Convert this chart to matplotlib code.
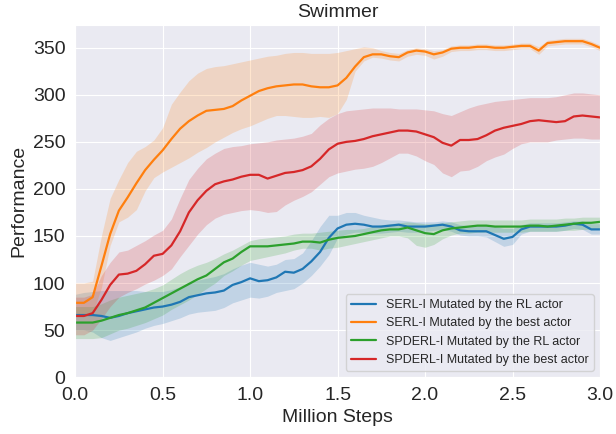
import numpy as np
import matplotlib
matplotlib.use("Agg")
import matplotlib.pyplot as plt
import seaborn as sns

sns.set_style("darkgrid")
plt.rcParams['font.family'] = ['Liberation Sans', 'DejaVu Sans']

# x axis: million steps
steps = np.linspace(0, 3, 61)

# SERL-I mutated by the RL actor (blue)
serl_rl = [66, 66, 66, 65, 63, 65, 68, 70, 72, 74, 75, 77, 80, 85, 87, 89, 90, 92, 98, 101,
           105, 102, 103, 106, 112, 111, 115, 123, 133, 148, 158, 162, 163, 162, 160, 160, 161, 162, 160, 160,
           160, 161, 162, 160, 156, 155, 155, 155, 151, 147, 149, 157, 160, 160, 160, 160, 161, 163, 162, 157, 157]
serl_rl_hi = [88, 90, 91, 92, 92, 92, 92, 92, 91, 91, 91, 93, 96, 100, 103, 105, 107, 110, 115, 119,
              122, 120, 118, 120, 125, 126, 132, 145, 160, 172, 172, 175, 175, 172, 170, 168, 167, 167, 166, 165,
              165, 165, 166, 165, 162, 161, 161, 161, 160, 158, 158, 162, 164, 164, 164, 164, 165, 166, 166, 163, 163]
serl_rl_lo = [50, 50, 48, 42, 39, 42, 45, 48, 52, 55, 57, 60, 63, 67, 69, 70, 71, 74, 79, 82,
              85, 84, 86, 90, 92, 94, 100, 108, 118, 130, 148, 152, 154, 154, 153, 153, 154, 155, 154, 154,
              155, 156, 157, 155, 151, 150, 150, 149, 144, 139, 141, 152, 155, 155, 155, 155, 156, 158, 157, 152, 152]

# SERL-I mutated by the best actor (orange)
serl_best = [79, 79, 85, 118, 152, 177, 191, 206, 220, 231, 241, 253, 264, 272, 278, 283, 284, 285, 288, 294,
             299, 304, 307, 309, 310, 311, 311, 309, 308, 308, 310, 318, 330, 340, 343, 343, 341, 340, 345, 347,
             346, 343, 345, 349, 350, 350, 351, 351, 350, 350, 351, 352, 352, 347, 355, 356, 357, 357, 357, 354, 350]
serl_best_hi = [100, 100, 102, 150, 190, 210, 228, 240, 245, 252, 265, 290, 303, 315, 323, 328, 330, 331, 333, 335,
                337, 339, 341, 342, 344, 345, 345, 344, 344, 344, 345, 347, 349, 351, 350, 347, 345, 344, 348, 350,
                349, 347, 348, 352, 353, 353, 354, 354, 353, 353, 354, 355, 355, 351, 358, 359, 360, 360, 360, 357, 353]
serl_best_lo = [65, 65, 68, 95, 140, 165, 170, 178, 198, 212, 218, 223, 228, 233, 239, 244, 250, 255, 260, 264,
                267, 271, 275, 278, 278, 277, 276, 276, 277, 276, 280, 295, 325, 336, 340, 339, 337, 336, 341, 343,
                342, 338, 341, 346, 347, 347, 348, 348, 347, 347, 348, 349, 349, 343, 352, 353, 354, 354, 354, 351, 347]

# SPDERL-I mutated by the RL actor (green)
spd_rl = [58, 58, 58, 60, 63, 66, 68, 71, 74, 79, 84, 89, 94, 99, 104, 108, 115, 122, 126, 133,
          139, 139, 139, 140, 141, 142, 144, 144, 143, 146, 148, 149, 150, 152, 154, 156, 157, 157, 159, 156,
          153, 152, 156, 158, 159, 160, 161, 161, 160, 160, 160, 160, 161, 161, 160, 161, 162, 163, 164, 164, 165]
spd_rl_hi = [75, 75, 75, 78, 82, 85, 87, 89, 91, 94, 98, 104, 110, 115, 119, 122, 126, 131, 135, 140,
             145, 147, 148, 149, 150, 152, 153, 153, 154, 155, 156, 157, 157, 158, 160, 162, 163, 164, 165, 164,
             163, 163, 164, 165, 166, 167, 167, 167, 167, 167, 167, 167, 168, 168, 168, 168, 169, 169, 170, 170, 170]
spd_rl_lo = [41, 41, 41, 42, 46, 50, 52, 55, 58, 62, 66, 72, 77, 82, 88, 94, 100, 108, 113, 119,
             124, 126, 128, 130, 132, 135, 137, 137, 135, 137, 138, 140, 142, 144, 146, 148, 150, 150, 148, 140,
             138, 141, 147, 151, 153, 153, 154, 154, 154, 154, 154, 154, 155, 155, 155, 155, 156, 156, 157, 157, 158]

# SPDERL-I mutated by the best actor (red)
spd_best = [65, 65, 68, 82, 98, 109, 110, 113, 120, 129, 131, 140, 155, 175, 188, 198, 205, 208, 210, 213,
            215, 215, 211, 214, 217, 218, 220, 224, 232, 242, 248, 250, 251, 253, 256, 258, 260, 262, 262, 261,
            258, 255, 249, 246, 252, 252, 253, 257, 262, 265, 267, 269, 272, 273, 272, 271, 272, 277, 278, 277, 276]
spd_best_hi = [85, 85, 88, 108, 122, 133, 135, 140, 145, 151, 156, 168, 190, 210, 222, 232, 238, 243, 245, 246,
               248, 249, 250, 252, 253, 254, 256, 259, 268, 275, 280, 283, 284, 285, 286, 286, 286, 285, 285, 285,
               284, 283, 280, 278, 282, 286, 289, 291, 293, 294, 295, 296, 297, 297, 297, 298, 300, 302, 302, 301, 300]
spd_best_lo = [45, 45, 50, 62, 75, 85, 90, 94, 99, 103, 108, 115, 128, 140, 152, 162, 169, 173, 175, 177,
               178, 177, 175, 176, 183, 188, 192, 197, 205, 213, 217, 219, 221, 222, 224, 228, 233, 238, 238, 235,
               230, 226, 217, 213, 219, 220, 224, 230, 234, 237, 243, 248, 250, 250, 250, 252, 253, 254, 254, 253, 253]

labels = ['SERL-I Mutated by the RL actor', 'SERL-I Mutated by the best actor',
          'SPDERL-I Mutated by the RL actor', 'SPDERL-I Mutated by the best actor']
colors = ['#1f77b4', '#ff7f0e', '#2ca02c', '#d62728']
means = [serl_rl, serl_best, spd_rl, spd_best]
highs = [serl_rl_hi, serl_best_hi, spd_rl_hi, spd_best_hi]
lows = [serl_rl_lo, serl_best_lo, spd_rl_lo, spd_best_lo]

fig = plt.figure(figsize=(6.16, 4.34), dpi=100)
ax = fig.add_axes([0.122, 0.131, 0.852, 0.811])

for m, hi, lo, c, lab in zip(means, highs, lows, colors, labels):
    ax.plot(steps, m, color=c, linewidth=1.6, label=lab)
    ax.fill_between(steps, lo, hi, color=c, alpha=0.2, linewidth=0)

ax.set_xlim(0, 3.0)
ax.set_ylim(0, 374)
ax.set_xticks([0.0, 0.5, 1.0, 1.5, 2.0, 2.5, 3.0])
ax.set_yticks(range(0, 351, 50))
ax.tick_params(labelsize=14)
ax.set_xlabel("Million Steps", fontsize=14)
ax.set_ylabel("Performance", fontsize=14)
ax.set_title("Swimmer", fontsize=14)
ax.legend(loc='lower right', fontsize=9)

fig.savefig("out.png", dpi=100)
